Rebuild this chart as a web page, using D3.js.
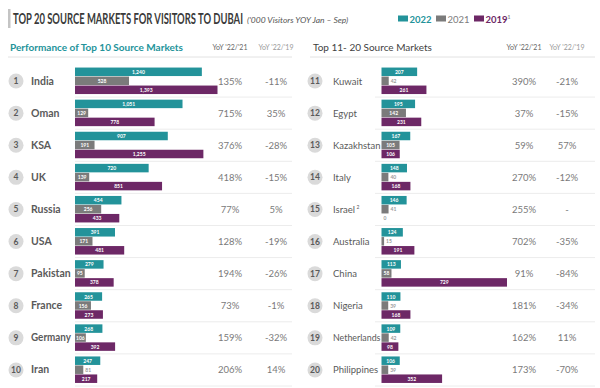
<!DOCTYPE html>
<html>
<head>
<meta charset="utf-8">
<script src="https://cdn.jsdelivr.net/npm/d3@7"></script>
<style>
  body { margin: 0; background: #fff; }
  svg { font-family: Lato, "Open Sans", sans-serif; }
</style>
</head>
<body>
<svg id="chart" width="600" height="388"></svg>
<script>
// data ('000 visitors, Jan - Sep)
var years = ["2022", "2021", "2019"];

var topCountries = ["India", "Oman", "KSA", "UK", "Russia", "USA", "Pakistan", "France", "Germany", "Iran"];
var top2022 = [1240, 1051, 907, 720, 454, 391, 279, 265, 268, 247];
var top2021 = [528, 129, 191, 139, 256, 171, 95, 156, 106, 81];
var top2019 = [1393, 778, 1255, 851, 433, 481, 378, 273, 392, 217];
var topYoy21 = ["135%", "715%", "376%", "418%", "77%", "128%", "194%", "73%", "159%", "206%"];
var topYoy19 = ["-11%", "35%", "-28%", "-15%", "5%", "-19%", "-26%", "-1%", "-32%", "14%"];

var nextCountries = ["Kuwait", "Egypt", "Kazakhstan", "Italy", "Israel", "Australia", "China", "Nigeria", "Netherlands", "Philippines"];
var next2022 = [207, 195, 167, 148, 146, 124, 113, 110, 109, 106];
var next2021 = [42, 142, 105, 40, 41, 15, 58, 39, 42, 39];
var next2019 = [261, 231, 106, 168, 0, 191, 729, 168, 98, 352];
var nextYoy21 = ["390%", "37%", "59%", "270%", "255%", "702%", "91%", "181%", "162%", "173%"];
var nextYoy19 = ["-21%", "-15%", "57%", "-12%", "-", "-35%", "-84%", "-34%", "11%", "-70%"];

var colors = { "2022": "#23939a", "2021": "#7b7b7b", "2019": "#6d2866" };
var textGray = "#5a5a5a";

var svg = d3.select("#chart");

// squeeze a text horizontally (keeps its height) so it is no wider than w
function squeeze(sel, w) {
    var len = sel.node().getComputedTextLength();
    if (len <= w) return sel;
    var tx = +sel.attr("x"), ty = +sel.attr("y");
    sel.attr("x", 0).attr("y", 0)
        .attr("transform", "translate(" + tx + "," + ty + ") scale(" + (w / len) + ",1)");
    return sel;
}

// Title
svg.append("rect").attr("x", 8).attr("y", 9).attr("width", 2.5).attr("height", 19).attr("fill", "#c4c4c4");
var title = svg.append("text").attr("x", 13).attr("y", 24)
    .attr("font-size", 15.5).attr("font-weight", "bold").attr("fill", "#3a3a3a")
    .text("TOP 20 SOURCE MARKETS FOR VISITORS TO DUBAI");
squeeze(title, 230);
var subtitle = svg.append("text").attr("x", 247).attr("y", 22.5)
    .attr("font-size", 8.5).attr("font-style", "italic").attr("fill", "#555")
    .text("('000 Visitors YOY Jan \u2013 Sep)");
squeeze(subtitle, 134);

// Legend
var legendX = [398, 436, 474];
years.forEach(function (yr, i) {
    svg.append("rect").attr("x", legendX[i]).attr("y", 15.5).attr("width", 10).attr("height", 6).attr("fill", colors[yr]);
    var t = svg.append("text").attr("x", legendX[i] + 11.5).attr("y", 22.5)
        .attr("font-size", 9.5).attr("font-weight", yr == "2021" ? "normal" : "bold")
        .attr("fill", colors[yr]).text(yr);
    if (yr == "2019") {
        t.append("tspan").attr("font-size", 5).attr("dy", -4).attr("fill", "#888").text("1");
    }
});

function buildPanel(opts) {
    var g = svg.append("g");
    var rows = opts.countries.map(function (c, i) {
        return { rank: opts.startRank + i, name: c, v: [opts.v22[i], opts.v21[i], opts.v19[i]], y1: opts.yoy21[i], y2: opts.yoy19[i] };
    });

    var y = d3.scaleBand().domain(rows.map(function (d) { return d.rank; })).range([65, 386]).padding(0);
    var sub = d3.scaleBand().domain(years).range([-13.5, 13.5]).padding(0);
    var x = d3.scaleLinear().domain([0, opts.maxVal]).range([opts.barX, opts.barX + opts.barW]);

    // header
    g.append("text").attr("x", opts.headX).attr("y", 51)
        .attr("font-size", 10).attr("font-weight", opts.headBold ? "bold" : "normal")
        .attr("fill", opts.headColor).text(opts.heading);
    g.append("text").attr("x", opts.yoyX[0]).attr("y", 50).attr("text-anchor", "middle")
        .attr("font-size", 7).attr("fill", "#666").text("YoY '22/'21");
    g.append("text").attr("x", opts.yoyX[1]).attr("y", 50).attr("text-anchor", "middle")
        .attr("font-size", 7).attr("fill", "#999").text("YoY '22/'19");
    g.append("line").attr("x1", opts.lineX[0]).attr("x2", opts.lineX[1]).attr("y1", 57).attr("y2", 57)
        .attr("stroke", "#e2e2e2").attr("stroke-width", 1);

    var row = g.selectAll(".row").data(rows).enter().append("g")
        .attr("class", "row")
        .attr("transform", function (d) { return "translate(0," + (y(d.rank) + y.bandwidth() / 2) + ")"; });

    // row separators
    row.append("line").attr("x1", opts.sepStart).attr("x2", opts.lineX[1])
        .attr("y1", y.bandwidth() / 2).attr("y2", y.bandwidth() / 2)
        .attr("stroke", "#ececec").attr("stroke-width", 1);

    row.append("circle").attr("cx", opts.circleX).attr("cy", 0).attr("r", 7.5).attr("fill", "#dadada");
    row.append("text").attr("x", opts.circleX).attr("y", 3).attr("text-anchor", "middle")
        .attr("font-size", 8.5).attr("font-weight", "bold").attr("fill", textGray)
        .text(function (d) { return d.rank; });

    var names = row.append("text").attr("x", opts.nameX).attr("y", 3.5)
        .attr("font-size", opts.nameSize).attr("font-weight", opts.nameBold ? "bold" : "normal")
        .attr("fill", textGray)
        .text(function (d) { return d.name; });
    names.filter(function (d) { return d.name == "Israel"; })
        .append("tspan").attr("font-size", 5).attr("dy", -4).attr("dx", 1.5).text("2");
    names.each(function () { squeeze(d3.select(this), opts.barX - opts.nameX - opts.nameGap); });

    row.append("text").attr("x", opts.yoyX[0]).attr("y", 3.5).attr("text-anchor", "middle")
        .attr("font-size", 9.5).attr("fill", "#7a7a7a").text(function (d) { return d.y1; });
    row.append("text").attr("x", opts.yoyX[1]).attr("y", 3.5).attr("text-anchor", "middle")
        .attr("font-size", 9.5).attr("fill", "#7a7a7a").text(function (d) { return d.y2; });

    var bars = row.selectAll(".bar").data(function (d) {
        return years.map(function (yr, i) { return { year: yr, value: d.v[i] }; });
    }).enter().append("g").attr("class", "bar");

    bars.append("rect")
        .attr("x", x(0))
        .attr("y", function (d) { return sub(d.year); })
        .attr("width", function (d) { return x(d.value) - x(0); })
        .attr("height", sub.bandwidth() - 0.5)
        .attr("fill", function (d) { return colors[d.year]; });

    function small(d) { return (x(d.value) - x(0)) < 8.5; }

    bars.append("text")
        .attr("x", function (d) { return small(d) ? x(d.value) + 2 : (x(0) + x(d.value)) / 2; })
        .attr("y", function (d) { return sub(d.year) + sub.bandwidth() / 2 + 1.8; })
        .attr("text-anchor", function (d) { return small(d) ? "start" : "middle"; })
        .attr("font-size", 5)
        .attr("font-weight", "bold")
        .attr("fill", function (d) { return small(d) ? "#9a9a9a" : "#fff"; })
        .text(function (d) { return d3.format(",")(d.value); });
}

buildPanel({
    countries: topCountries, v22: top2022, v21: top2021, v19: top2019, yoy21: topYoy21, yoy19: topYoy19,
    startRank: 1, maxVal: 1393, barX: 75, barW: 142.5,
    heading: "Performance of Top 10 Source Markets", headX: 10, headBold: true, headColor: "#23939a",
    yoyX: [230, 276], lineX: [8, 292], sepStart: 75,
    circleX: 16, nameX: 31, nameSize: 10.5, nameBold: true, nameGap: 4
});

buildPanel({
    countries: nextCountries, v22: next2022, v21: next2021, v19: next2019, yoy21: nextYoy21, yoy19: nextYoy19,
    startRank: 11, maxVal: 729, barX: 381.5, barW: 125.5,
    heading: "Top 11- 20 Source Markets", headX: 313, headBold: false, headColor: "#3f3f3f",
    yoyX: [524, 567], lineX: [310, 595], sepStart: 375,
    circleX: 315, nameX: 333, nameSize: 9.5, nameBold: false, nameGap: 1
});
</script>
</body>
</html>
